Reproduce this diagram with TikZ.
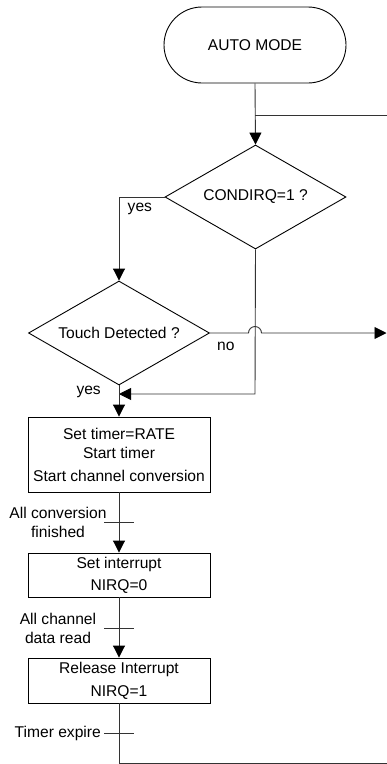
\documentclass[tikz,border=0pt]{standalone}
\usepackage{fontspec}
\setmainfont{Liberation Sans}
\usetikzlibrary{shapes.geometric,arrows.meta}
\begin{document}
\begin{tikzpicture}[x=1pt,y=-1pt,
  every node/.style={font=\fontsize{15.6}{19}\selectfont, inner sep=0pt},
  ln/.style={line width=0.9pt, draw=black!80},
  arr/.style={ln, -{Triangle[width=12pt,length=12pt,fill=black,color=black]}},
  term/.style={draw, line width=0.9pt, rounded corners=38pt, minimum width=182pt, minimum height=76pt},
  dec/.style={draw, line width=0.9pt, diamond, aspect=1.74, minimum width=181pt, minimum height=104pt},
  proc/.style={draw, line width=0.9pt, minimum width=182pt, align=center},
  lbl/.style={align=center}]
\useasboundingbox (0,0) rectangle (387,764);
\node[term] (auto) at (255,45) {AUTO MODE};
\node[dec] (cond) at (255.5,197) {CONDIRQ=1 ?};
\node[dec] (touch) at (119,333) {Touch Detected ?};
\node[proc, minimum height=75pt] (b1) at (119,454.5) {Set timer=RATE\\Start timer\\[4pt]Start channel conversion};
\node[proc, minimum height=44pt] (b2) at (119,575) {Set interrupt\\[3pt]NIRQ=0};
\node[proc, minimum height=45pt] (b3) at (119,680.5) {Release Interrupt\\[4pt]NIRQ=1};
% coordinates
\coordinate (j1) at (255,115);
\coordinate (r1) at (387,115);
\coordinate (yc) at (119,197);
\coordinate (c1) at (255,394);
\coordinate (c2) at (119,394);
\coordinate (nr) at (386.5,333);
\coordinate (bt) at (119,763);
\coordinate (br) at (387,763);
\coordinate (t1a) at (104,522); \coordinate (t1b) at (134,522);
\coordinate (t2a) at (104,628); \coordinate (t2b) at (134,628);
\coordinate (t3a) at (104,733); \coordinate (t3b) at (134,733);
% connectors
\draw[arr] (auto.south) -- (cond.north);
\draw[ln] (j1) -- (r1);
\draw[arr] (cond.west) -- (yc) -- (touch.north);
\draw[arr] (cond.south) -- (c1) -- (c2);
\draw[arr] (touch.east) -- (248.5,333) arc[start angle=180,end angle=360,radius=6.5] -- (nr);
\draw[arr] (touch.south) -- (b1.north);
\draw[arr] (b1.south) -- (b2.north);
\draw[arr] (b2.south) -- (b3.north);
\draw[ln] (b3.south) -- (bt) -- (br);
\draw[ln] (t1a) -- (t1b);
\draw[ln] (t2a) -- (t2b);
\draw[ln] (t3a) -- (t3b);
% labels
\node[anchor=west] (ly1) at (127.5,209) {yes};
\node[anchor=west] (lno) at (217,346) {no};
\node[anchor=east] (ly2) at (101,392) {yes};
\node[lbl] (l1) at (58,522.5) {All conversion\\finished};
\node[lbl] (l2) at (58,628.5) {All channel\\data read};
\node[anchor=east] (l3) at (101,733) {Timer expire};
\end{tikzpicture}
\end{document}
